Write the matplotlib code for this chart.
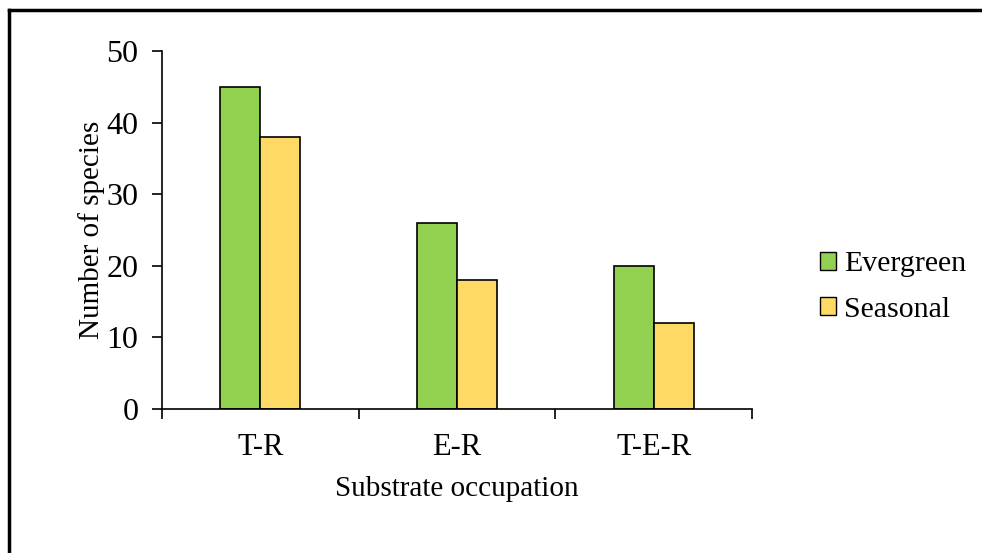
import numpy as np
from matplotlib import pyplot as plt
from matplotlib.lines import Line2D
from matplotlib.patches import Patch

categories = ['T-R', 'E-R', 'T-E-R']
evergreen = [45, 26, 20]
seasonal = [38, 18, 12]

plt.rcParams['font.family'] = ['Liberation Serif', 'DejaVu Serif']

fig = plt.figure(figsize=(9.82, 5.53), dpi=100)
ax = fig.add_axes([162 / 982, 1 - 409 / 553, (752 - 162) / 982, (409 - 51) / 553])

# outer chart frame (only left and top visible in the crop)
fig.add_artist(Line2D([9 / 982, 9 / 982], [0, 1 - 10 / 553], color='black', lw=2.5))
fig.add_artist(Line2D([9 / 982, 1], [1 - 10 / 553, 1 - 10 / 553], color='black', lw=2.5))

x = np.arange(len(categories))
barWidth = 0.203
ax.bar(x - barWidth / 2, evergreen, width=barWidth, color='#92D050', edgecolor='black', lw=1.2, label='Evergreen')
ax.bar(x + barWidth / 2, seasonal, width=barWidth, color='#FFD966', edgecolor='black', lw=1.2, label='Seasonal')

ax.set_xlim(-0.5, len(categories) - 0.5)
ax.set_ylim(0, 50)
ax.set_yticks([0, 10, 20, 30, 40, 50])
ax.set_xticks(x)
ax.set_xticklabels(categories)
ax.set_xticks(np.arange(len(categories) + 1) - 0.5, minor=True)
ax.tick_params(axis='x', which='major', length=0, labelsize=22, pad=17)
ax.tick_params(axis='x', which='minor', length=7, width=1.2, direction='out')
ax.tick_params(axis='y', length=7, width=1.2, direction='out', labelsize=23, pad=10)

for s in ['top', 'right']:
    ax.spines[s].set_visible(False)
ax.spines['left'].set_linewidth(1.2)
ax.spines['bottom'].set_linewidth(1.2)

ax.set_ylabel('Number of species', fontsize=21, labelpad=1)
ax.set_xlabel('Substrate occupation', fontsize=21, labelpad=10)

handles = [Patch(facecolor='#92D050', edgecolor='black', label='Evergreen'),
           Patch(facecolor='#FFD966', edgecolor='black', label='Seasonal')]
fig.legend(handles=handles, loc='center left', bbox_to_anchor=(820 / 982, 1 - 287 / 553),
           frameon=False, fontsize=21.5, handlelength=0.55, handleheight=0.55,
           handletextpad=0.25, labelspacing=0.65, borderpad=0, borderaxespad=0)

fig.savefig('out.png', dpi=100)
